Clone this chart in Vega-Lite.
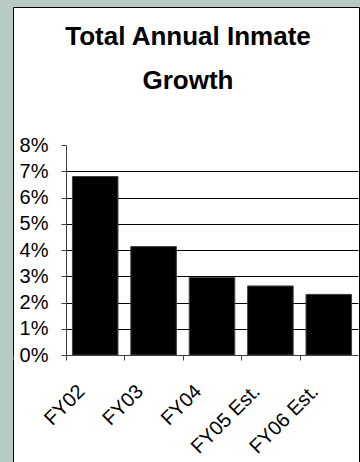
{
  "$schema": "https://vega.github.io/schema/vega-lite/v6.json",
  "width": 346,
  "height": 455,
  "autosize": {"type": "none"},
  "padding": {"left": 13, "top": 7, "right": 1, "bottom": 0},
  "background": "#b7cbc3",
  "config": {
    "view": {"fill": "white", "stroke": "black", "strokeWidth": 1},
    "font": "Liberation Sans"
  },
  "title": {
    "text": ["Total Annual Inmate", "Growth"],
    "font": "Liberation Sans",
    "fontSize": 26,
    "fontWeight": "bold",
    "color": "black",
    "baseline": "alphabetic",
    "lineHeight": 44,
    "offset": -108,
    "anchor": "middle",
    "dx": 2
  },
  "data": {
    "values": [
      {"year": "FY02", "growth": 0.068},
      {"year": "FY03", "growth": 0.0413},
      {"year": "FY04", "growth": 0.0295},
      {"year": "FY05 Est.", "growth": 0.0263},
      {"year": "FY06 Est.", "growth": 0.0231}
    ]
  },
  "mark": {"type": "bar", "fill": "black", "stroke": "#404040", "strokeWidth": 1},
  "encoding": {
    "x": {
      "field": "year",
      "type": "nominal",
      "sort": null,
      "scale": {"range": [53, 345], "paddingInner": 0.22, "paddingOuter": 0.11},
      "axis": {
        "title": null,
        "offset": -107,
        "bandPosition": 0,
        "tickExtra": true,
        "tickOffset": -6.4,
        "tickSize": 5,
        "labelAngle": -45,
        "labelAlign": "right",
        "labelBaseline": "middle",
        "labelOffset": -7.6,
        "labelPadding": 28,
        "labelFontSize": 20,
        "labelFont": "Liberation Sans",
        "labelColor": "black",
        "labelOverlap": false,
        "labelBound": false,
        "domainColor": "#404040",
        "tickColor": "#404040",
        "grid": false
      }
    },
    "y": {
      "field": "growth",
      "type": "quantitative",
      "scale": {"domain": [0, 0.08], "range": [348, 138], "nice": false, "zero": true},
      "axis": {
        "title": null,
        "values": [0, 0.01, 0.02, 0.03, 0.04, 0.05, 0.06, 0.07, 0.08],
        "format": ".0%",
        "offset": -53,
        "tickSize": 5,
        "labelPadding": 13,
        "labelFontSize": 20,
        "labelFont": "Liberation Sans",
        "labelColor": "black",
        "labelOverlap": false,
        "labelBound": false,
        "domainColor": "#404040",
        "tickColor": "#404040",
        "grid": true,
        "gridColor": "black",
        "gridWidth": 1,
        "gridOpacity": {"condition": {"test": "datum.value < 0.005 || datum.value > 0.075", "value": 0}, "value": 1}
      }
    }
  }
}
